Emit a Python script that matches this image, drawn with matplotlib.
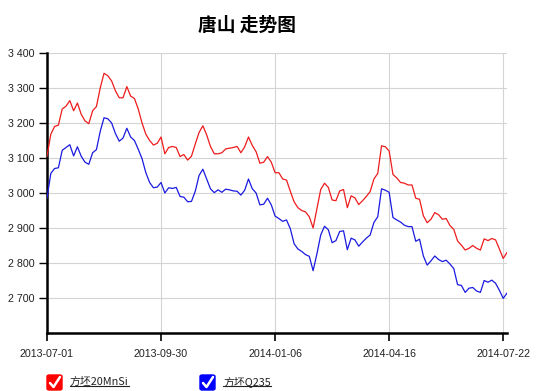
import matplotlib
matplotlib.use("Agg")
import matplotlib.pyplot as plt
from matplotlib.patches import FancyBboxPatch
from matplotlib.lines import Line2D

# ---------------- data ----------------
title = "唐山 走势图"
series_names = ["方坯20MnSi", "方坯Q235"]
x_tick_labels = ["2013-07-01", "2013-09-30", "2014-01-06", "2014-04-16", "2014-07-22"]
y_ticks = [2700, 2800, 2900, 3000, 3100, 3200, 3300, 3400]

red_20mnsi = [
    3105, 3168, 3190, 3194, 3240, 3248, 3264, 3235, 3257, 3225,
    3206, 3198, 3235, 3247, 3300, 3342, 3335, 3320, 3292, 3272,
    3272, 3304, 3277, 3270, 3240, 3200, 3168, 3150, 3137, 3142,
    3160, 3112, 3130, 3133, 3130, 3104, 3110, 3094, 3105, 3140,
    3173, 3192, 3166, 3133, 3112, 3112, 3115, 3126, 3128, 3130,
    3133, 3115, 3132, 3160, 3136, 3118, 3085, 3088, 3104, 3088,
    3058, 3058, 3040, 3037, 3005, 2975, 2958, 2950, 2946, 2932,
    2900, 2955, 3010, 3028, 3016, 2980, 2978, 3006, 3010, 2958,
    2992, 2986, 2967, 2978, 2990, 3004, 3040, 3056, 3135, 3132,
    3120, 3053, 3043, 3030, 3028, 3023, 3023, 2985, 2982, 2935,
    2915, 2925, 2944, 2938, 2925, 2927, 2907, 2896, 2863, 2851,
    2837, 2842, 2850, 2842, 2837, 2869, 2864, 2870, 2866, 2840,
    2813, 2830,
]
blue_q235 = [
    2985, 3056, 3070, 3072, 3122, 3130, 3138, 3106, 3132, 3105,
    3088, 3082, 3115, 3124, 3176, 3215, 3212, 3200, 3170, 3148,
    3157, 3185, 3160, 3150, 3125, 3098, 3058, 3030, 3015, 3017,
    3030, 3000, 3015, 3013, 3016, 2990, 2988, 2975, 2976, 3005,
    3050, 3068, 3040, 3012, 3001, 3009, 3002, 3011, 3009, 3006,
    3005, 2994, 3008, 3040, 3012, 3000, 2966, 2968, 2985, 2966,
    2934, 2927, 2919, 2923, 2898, 2855, 2840, 2833, 2824, 2819,
    2778, 2826, 2880, 2905, 2895, 2858, 2864, 2890, 2892, 2838,
    2871, 2866, 2848, 2860, 2871, 2880, 2916, 2932, 3012, 3008,
    3002, 2930, 2923, 2917, 2908, 2904, 2904, 2862, 2868, 2820,
    2794, 2806, 2820, 2810, 2804, 2808, 2797, 2784, 2738, 2736,
    2716, 2728, 2730, 2720, 2716, 2750, 2745, 2751, 2742, 2722,
    2699, 2714,
]
series_colors = ["#ee1c1c", "#1a1ae0"]

# ---------------- figure ----------------
W, H = 536, 391
fig = plt.figure(figsize=(W / 100, H / 100), dpi=100)
fig.patch.set_facecolor("white")

def fx(px):
    return px / W

def fy(py):
    return 1 - py / H

ax = fig.add_axes([fx(47), fy(333), fx(507) - fx(47), fy(53) - fy(333)])

n = len(red_20mnsi)
xs = list(range(n))
ax.plot(xs, red_20mnsi, color=series_colors[0], lw=0.9, zorder=3)
ax.plot(xs, blue_q235, color=series_colors[1], lw=0.9, zorder=3)

ax.set_xlim(0, n - 1)
ax.set_ylim(2600, 3400)

step = 30
xt = [i * step for i in range(len(x_tick_labels))]
ax.set_xticks(xt)
ax.set_xticklabels(x_tick_labels, fontsize=7.7, family=["Liberation Sans", "DejaVu Sans"], color="#222222")
ax.set_yticks(y_ticks)
ax.set_yticklabels([f"{v:,}".replace(",", " ") for v in y_ticks], fontsize=7.7,
                   family=["Liberation Sans", "DejaVu Sans"], color="#222222")

ax.tick_params(axis="y", direction="out", length=6, width=1.0, pad=3, color="black")
ax.tick_params(axis="x", direction="out", length=5.5, width=1.2, pad=6, color="black")

for s in ["top", "right"]:
    ax.spines[s].set_visible(False)
for s in ["left", "bottom"]:
    ax.spines[s].set_linewidth(1.8)
    ax.spines[s].set_color("black")

ax.grid(True, color="#d4d4d4", lw=0.8, zorder=0)
ax.set_axisbelow(True)

# title
fig.text(fx(247), fy(25), title, ha="center", va="center", fontsize=13.5, fontweight="bold",
         family=["Noto Sans CJK SC", "DejaVu Sans"], color="black")

# legend (checkbox style)
def checkbox(px, py, color):
    size = 15
    box = FancyBboxPatch((fx(px), fy(py + size)), fx(size), (size / H),
                         boxstyle="round,pad=0,rounding_size=0.004",
                         transform=fig.transFigure, facecolor=color, edgecolor=color)
    fig.add_artist(box)
    chk = Line2D([fx(px + 3), fx(px + 6.5), fx(px + 13)],
                 [fy(py + 8), fy(py + 12), fy(py + 2)],
                 transform=fig.transFigure, color="white", lw=1.8,
                 solid_capstyle="round", solid_joinstyle="round")
    fig.add_artist(chk)

legend_x = [47, 200]
legend_box_colors = ["#ff0000", "#0000ff"]
texts = []
for lx, name, bc in zip(legend_x, series_names, legend_box_colors):
    checkbox(lx, 375, bc)
    t = fig.text(fx(lx + 23), fy(382), name, ha="left", va="center", fontsize=7.8,
                 family=["Noto Sans CJK SC", "DejaVu Sans"], color="#222222")
    texts.append(t)

fig.canvas.draw()
r = fig.canvas.get_renderer()
for t in texts:
    bb = t.get_window_extent(renderer=r)
    y0 = bb.y0 + 1.5
    fig.add_artist(Line2D([bb.x0 / W, bb.x1 / W], [y0 / H, y0 / H],
                          transform=fig.transFigure, color="#222222", lw=0.8))

fig.savefig("out.png", dpi=100, facecolor="white")
